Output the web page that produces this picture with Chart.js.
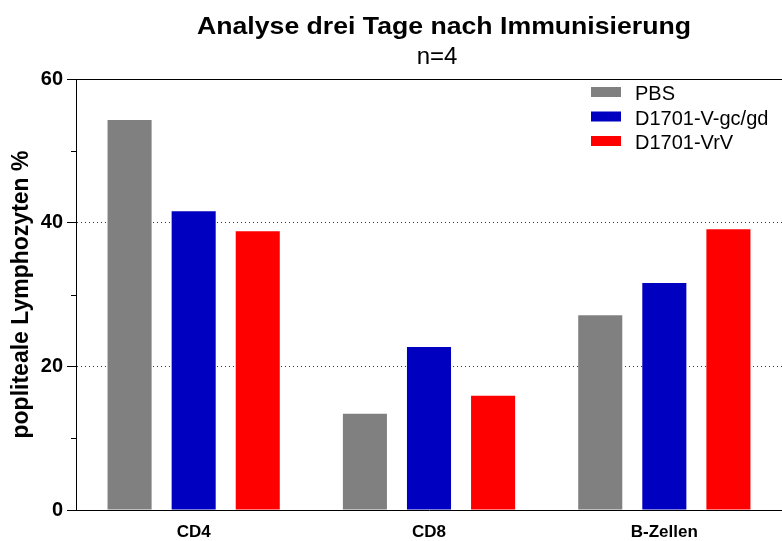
<!DOCTYPE html>
<html>
<head>
<meta charset="utf-8">
<script src="https://cdn.jsdelivr.net/npm/chart.js@4/dist/chart.umd.min.js"></script>
<style>
html,body{margin:0;padding:0;background:#fff;}
#wrap{width:782px;height:541px;position:relative;}
</style>
</head>
<body>
<div id="wrap"><canvas id="c" width="782" height="541"></canvas></div>
<script>
const titleText = 'Analyse drei Tage nach Immunisierung';
const subtitleText = 'n=4';
const yAxisTitle = 'popliteale Lymphozyten %';
const categories = ['CD4', 'CD8', 'B-Zellen'];
const seriesNames = ['PBS', 'D1701-V-gc/gd', 'D1701-VrV'];
const pbsValues = [54.3, 13.4, 27.1];
const gcgdValues = [41.6, 22.7, 31.6];
const vrvValues = [38.8, 15.9, 39.1];
const yTicksMajor = [0, 20, 40, 60];
const yTicksMinor = [10, 30, 50];

const colors = ['#808080', '#0000C0', '#FF0000'];
const FONT = '"Liberation Sans", Arial, Helvetica, sans-serif';

const decorPlugin = {
  id: 'decor',
  afterDraw(chart) {
    const ctx = chart.ctx;
    const ca = chart.chartArea;
    const y = chart.scales.y;
    ctx.save();
    // top frame line
    ctx.strokeStyle = '#000';
    ctx.lineWidth = 1;
    ctx.beginPath();
    ctx.moveTo(ca.left, Math.round(ca.top) + 0.5);
    ctx.lineTo(chart.width, Math.round(ca.top) + 0.5);
    ctx.stroke();
    // minor ticks
    yTicksMinor.forEach(v => {
      const py = Math.round(y.getPixelForValue(v)) + 0.5;
      ctx.beginPath();
      ctx.moveTo(ca.left - 5, py);
      ctx.lineTo(ca.left, py);
      ctx.stroke();
    });
    // titles
    ctx.fillStyle = '#000';
    ctx.textAlign = 'center';
    ctx.textBaseline = 'alphabetic';
    ctx.save();
    ctx.translate(444, 34);
    ctx.scale(1.11, 1);
    ctx.font = 'bold 24px ' + FONT;
    ctx.fillText(titleText, 0, 0);
    ctx.restore();
    ctx.font = '24px ' + FONT;
    ctx.fillText(subtitleText, 437, 64);
    // legend
    ctx.textAlign = 'left';
    ctx.font = '20px ' + FONT;
    chart.data.datasets.forEach((ds, i) => {
      const top = 87 + i * 24.5;
      ctx.fillStyle = ds.backgroundColor;
      ctx.fillRect(591, top, 30, 10);
      ctx.fillStyle = '#000';
      ctx.fillText(ds.label, 635, top + 13);
    });
    ctx.restore();
  }
};

new Chart(document.getElementById('c'), {
  type: 'bar',
  data: {
    labels: categories,
    datasets: [
      { label: seriesNames[0], data: pbsValues, backgroundColor: colors[0] },
      { label: seriesNames[1], data: gcgdValues, backgroundColor: colors[1] },
      { label: seriesNames[2], data: vrvValues, backgroundColor: colors[2] }
    ]
  },
  options: {
    responsive: false,
    animation: false,
    devicePixelRatio: 1,
    layout: { padding: { top: 79, right: 0, left: 0, bottom: 0 } },
    categoryPercentage: 0.817,
    barPercentage: 0.6875,
    plugins: {
      legend: { display: false },
      title: { display: false },
      tooltip: { enabled: false }
    },
    scales: {
      x: {
        grid: { display: false },
        border: { display: true, color: '#000', width: 1 },
        ticks: { color: '#000', font: { family: FONT, size: 17, weight: 'bold' }, padding: 4 },
        afterFit(scale) { scale.height = 31; }
      },
      y: {
        min: 0, max: 60,
        afterBuildTicks(scale) { scale.ticks = yTicksMajor.map(v => ({ value: v })); },
        grid: {
          color: ctx => (ctx.tick && (ctx.tick.value === 20 || ctx.tick.value === 40)) ? '#333' : 'rgba(0,0,0,0)',
          lineWidth: 1,
          drawTicks: true,
          tickLength: 9,
          tickColor: '#000',
          tickWidth: 1
        },
        border: { display: true, color: '#000', width: 1, dash: [1, 3] },
        ticks: { color: '#000', font: { family: FONT, size: 20, weight: 'bold' }, padding: 4 },
        title: {
          display: true, text: yAxisTitle, color: '#000',
          font: { family: FONT, size: 23, weight: 'bold' },
          padding: { top: 8, bottom: 0 }
        },
        afterFit(scale) { scale.width = 76; }
      }
    }
  },
  plugins: [decorPlugin]
});
</script>
</body>
</html>
